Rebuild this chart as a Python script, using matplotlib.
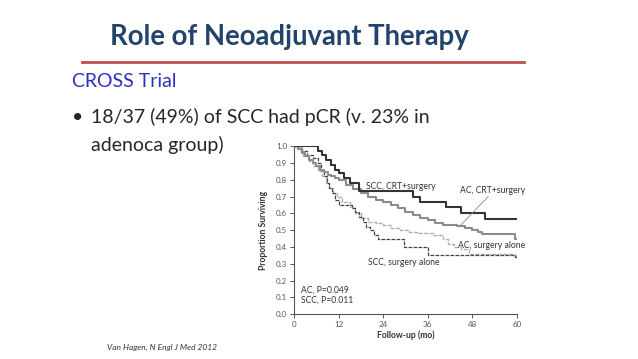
import matplotlib.pyplot as plt

plt.rcParams['font.family'] = ['Lato', 'DejaVu Sans']

# Kaplan-Meier curves (months, proportion surviving)
scc_crt_t = [0, 6.5, 7.5, 8.5, 10, 11, 12, 13.5, 15, 17.5, 32, 34, 41, 45, 51.5, 60]
scc_crt_s = [1.0, 0.97, 0.95, 0.92, 0.89, 0.86, 0.84, 0.81, 0.78, 0.73, 0.70, 0.67, 0.64, 0.60, 0.565, 0.565]

ac_crt_t = [0, 1, 2, 3, 4, 5, 6, 7, 8, 9, 10, 11, 12, 14, 16, 18, 20, 22, 24, 26, 28, 30,
            32, 34, 36, 38, 40, 44, 46, 48, 49.5, 50.5, 59.5, 60]
ac_crt_s = [1.0, 0.98, 0.96, 0.94, 0.92, 0.90, 0.88, 0.86, 0.845, 0.83, 0.82, 0.81, 0.80,
            0.77, 0.745, 0.72, 0.70, 0.68, 0.665, 0.65, 0.63, 0.61, 0.59, 0.575, 0.56,
            0.545, 0.53, 0.525, 0.515, 0.50, 0.49, 0.475, 0.45, 0.45]

ac_surg_t = [0, 1.5, 2.5, 4, 5, 6.5, 7.5, 8.5, 9.5, 10.5, 11.5, 13, 15, 16.5, 18, 20, 22,
             24, 26, 28.5, 31, 33, 37.5, 40, 41.5, 43, 45, 47, 59.5, 60]
ac_surg_s = [1.0, 0.97, 0.94, 0.91, 0.88, 0.85, 0.82, 0.78, 0.75, 0.72, 0.70, 0.67, 0.64,
             0.60, 0.57, 0.55, 0.54, 0.53, 0.51, 0.50, 0.49, 0.48, 0.47, 0.45, 0.42, 0.40,
             0.39, 0.36, 0.345, 0.345]

scc_surg_t = [0, 2, 3.5, 5, 6.5, 7.2, 8, 8.8, 9.5, 10.2, 11, 12, 15.5, 16.5, 17.5, 18.5, 19.5,
              20.5, 21.5, 22.5, 29.5, 36, 59.5, 60]
scc_surg_s = [1.0, 0.97, 0.95, 0.93, 0.90, 0.86, 0.82, 0.78, 0.75, 0.72, 0.68, 0.65, 0.63,
              0.61, 0.58, 0.55, 0.52, 0.50, 0.47, 0.45, 0.40, 0.35, 0.34, 0.34]

xticks = [0, 12, 24, 36, 48, 60]
yticks = [0.0, 0.1, 0.2, 0.3, 0.4, 0.5, 0.6, 0.7, 0.8, 0.9, 1.0]

fig = plt.figure(figsize=(6.38, 3.59), dpi=100)

# slide text
fig.text(0.453, 0.897, 'Role of Neoadjuvant Therapy', ha='center', va='center',
         fontsize=19.8, fontweight='bold', color='#22446b')
fig.add_artist(plt.Line2D([0.128, 0.821], [0.827, 0.827], color='#c0504d', lw=2))
fig.text(0.113, 0.774, 'CROSS Trial', ha='left', va='center', fontsize=14, color='#2f2fc4')
fig.text(0.113, 0.674, '•', ha='left', va='center', fontsize=14, color='#262626')
fig.text(0.143, 0.674, '18/37 (49%) of SCC had pCR (v. 23% in', ha='left', va='center',
         fontsize=14, color='#262626')
fig.text(0.143, 0.596, 'adenoca group)', ha='left', va='center', fontsize=14, color='#262626')
fig.text(0.168, 0.031, 'Van Hagen, N Engl J Med 2012', ha='left', va='center',
         fontsize=6, style='italic', color='#333333')

ax = fig.add_axes([0.461, 0.125, 0.349, 0.468])
ax.step(ac_surg_t, ac_surg_s, where='post', color='#b0b0b0', lw=1.0, ls=(0, (3, 1)))
ax.step(scc_surg_t, scc_surg_s, where='post', color='#444444', lw=0.9, ls=(0, (3, 1)))
ax.step(ac_crt_t, ac_crt_s, where='post', color='#8c8c8c', lw=1.5)
ax.step(scc_crt_t, scc_crt_s, where='post', color='#333333', lw=1.5)

fs = 6.2
ax.text(19.5, 0.76, 'SCC, CRT+surgery', fontsize=fs, color='#333333', va='center')
ax.text(44.7, 0.733, 'AC, CRT+surgery', fontsize=fs, color='#333333', va='center')
ax.plot([44.9, 52.3], [0.53, 0.70], color='#888888', lw=0.6)
ax.text(44.2, 0.41, 'AC, surgery alone', fontsize=fs, color='#333333', va='center')
ax.text(19.8, 0.31, 'SCC, surgery alone', fontsize=fs, color='#333333', va='center')
ax.text(1.8, 0.14, 'AC, P=0.049', fontsize=fs, color='#333333', va='center')
ax.text(1.8, 0.08, 'SCC, P=0.011', fontsize=fs, color='#333333', va='center')

ax.set_xlim(0, 60)
ax.set_ylim(0, 1.0)
ax.set_xticks(xticks)
ax.set_yticks(yticks)
ax.set_yticklabels([f'{v:.1f}' for v in yticks])
ax.tick_params(labelsize=5.8, colors='#555555', length=3, width=0.7, pad=2)
for s in ['top', 'right']:
    ax.spines[s].set_visible(False)
for s in ['left', 'bottom']:
    ax.spines[s].set_color('#555555')
    ax.spines[s].set_linewidth(0.8)
ax.set_xlabel('Follow-up (mo)', fontsize=6.2, fontweight='bold', color='#333333', labelpad=2)
ax.set_ylabel('Proportion Surviving', fontsize=6.2, fontweight='bold', color='#333333', labelpad=6)

fig.savefig('out.png', dpi=100)
